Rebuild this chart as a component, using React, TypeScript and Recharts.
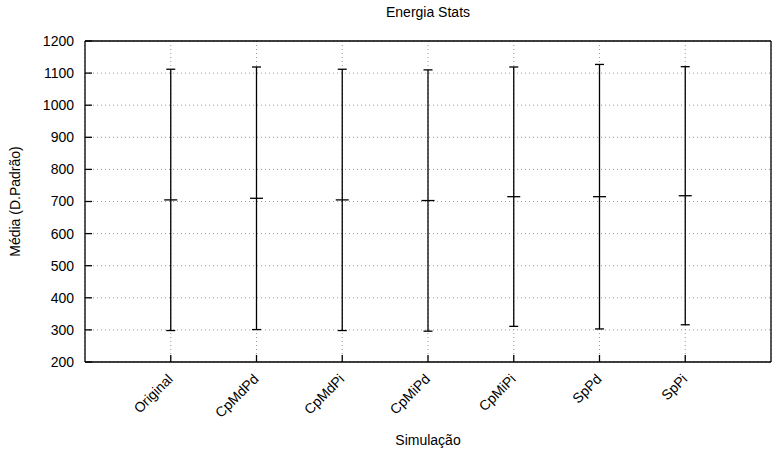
import React from 'react';
import { ComposedChart, Scatter, ErrorBar, XAxis, YAxis, CartesianGrid, Label } from 'recharts';

const categories = ['Original', 'CpMdPd', 'CpMdPi', 'CpMiPd', 'CpMiPi', 'SpPd', 'SpPi'];
const means = [705, 710, 705, 703, 715, 715, 718];
const stdDevs = [407, 409, 407, 407, 404, 412, 402];
const yTicks = [200, 300, 400, 500, 600, 700, 800, 900, 1000, 1100, 1200];
const xTicks = [1, 2, 3, 4, 5, 6, 7];

const data = categories.map((name, i) => ({ x: i + 1, name, mean: means[i], std: stdDevs[i] }));

const font = '"Liberation Sans", Arial, Helvetica, sans-serif';

const CategoryTick = (props: any) => {
  const { x, y, payload } = props;
  const ax = x + 3;
  const ay = y + 18;
  return (
    <text
      x={ax}
      y={ay}
      transform={`rotate(-45 ${ax} ${ay})`}
      textAnchor="end"
      fontSize={14}
      fontFamily={font}
      fill="#000"
    >
      {categories[payload.value - 1]}
    </text>
  );
};

const MeanMark = (props: any) => {
  const { cx, cy } = props;
  return <line x1={cx - 6.5} x2={cx + 6.5} y1={cy} y2={cy} stroke="#000" strokeWidth={1.3} />;
};

export default function App() {
  return (
    <div style={{ position: 'absolute', left: 0, top: 0, background: '#fff' }}>
      <ComposedChart width={775} height={455} data={data} margin={{ top: 40, right: 3, bottom: 0, left: 0 }}>
        <CartesianGrid stroke="#999" strokeDasharray="1 3" />
        <XAxis
          dataKey="x"
          type="number"
          domain={[0, 8]}
          ticks={xTicks}
          height={93}
          stroke="#000"
          strokeWidth={1.3}
          tickSize={-7}
          tickMargin={7}
          tick={<CategoryTick />}
          interval={0}
        >
          <Label value="Simulação" position="insideBottom" offset={10} fontSize={14} fontFamily={font} fill="#000" />
        </XAxis>
        <XAxis
          xAxisId="top"
          dataKey="x"
          orientation="top"
          type="number"
          domain={[0, 8]}
          ticks={xTicks}
          height={1}
          stroke="#000"
          strokeWidth={1.3}
          tickSize={-7}
          tick={false}
        >
          <Label value="Energia Stats" position="top" offset={23} fontSize={14} fontFamily={font} fill="#000" />
        </XAxis>
        <YAxis
          type="number"
          domain={[200, 1200]}
          ticks={yTicks}
          width={85}
          stroke="#000"
          strokeWidth={1.3}
          tickSize={-7}
          tickMargin={18}
          tick={{ fill: '#000', fontSize: 14, fontFamily: font }}
          interval={0}
        >
          <Label
            value="Média (D.Padrão)"
            angle={-90}
            position="insideLeft"
            offset={15}
            style={{ textAnchor: 'middle' }}
            fontSize={14}
            fontFamily={font}
            fill="#000"
          />
        </YAxis>
        <YAxis
          yAxisId="right"
          orientation="right"
          type="number"
          domain={[200, 1200]}
          ticks={yTicks}
          width={1}
          stroke="#000"
          strokeWidth={1.3}
          tickSize={-8}
          tick={false}
        />
        <Scatter data={data} dataKey="mean" shape={<MeanMark />} isAnimationActive={false}>
          <ErrorBar dataKey="std" direction="y" width={4.5} stroke="#000" strokeWidth={1.3} />
        </Scatter>
      </ComposedChart>
    </div>
  );
}
